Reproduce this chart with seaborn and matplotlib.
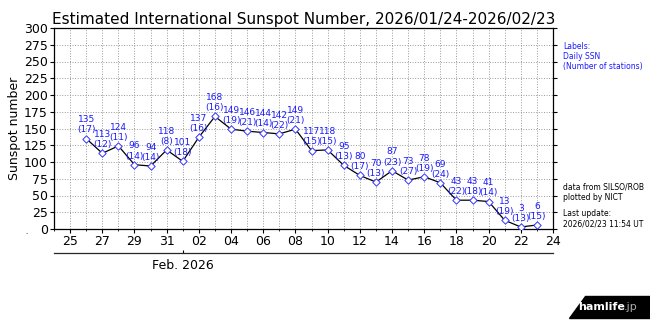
import matplotlib
matplotlib.use("Agg")
import matplotlib.pyplot as plt
import matplotlib.dates as mdates
import seaborn as sns
import pandas as pd
import numpy as np
from matplotlib.patches import Polygon

dates = pd.date_range("2026-01-26", "2026-02-23", freq="D")
ssn = [135, 113, 124, 96, 94, 118, 101, 137, 168, 149, 146, 144, 142, 149,
       117, 118, 95, 80, 70, 87, 73, 78, 69, 43, 43, 41, 13, 3, 6]
stations = [17, 12, 11, 14, 14, 8, 18, 16, 16, 19, 21, 14, 22, 21,
            15, 15, 13, 17, 13, 23, 27, 19, 24, 22, 18, 14, 19, 13, 15]
df = pd.DataFrame({"date": dates, "ssn": ssn, "n": stations})

tick_dates = pd.date_range("2026-01-25", "2026-02-24", freq="2D")
title = "Estimated International Sunspot Number, 2026/01/24-2026/02/23"
ylabel = "Sunspot number"

sns.set_theme(style="ticks")
plt.rcParams['font.family'] = ['DejaVu Sans']
plt.rcParams.update({"text.color": "black", "axes.labelcolor": "black",
                     "xtick.color": "black", "ytick.color": "black"})

fig = plt.figure(figsize=(6.5, 3.23), dpi=100)
ax = fig.add_axes([54/650, 1-229/323, (553-54)/650, (229-28)/323])

sns.lineplot(data=df, x="date", y="ssn", ax=ax, color="black", linewidth=0.9, zorder=3)
sns.scatterplot(data=df, x="date", y="ssn", ax=ax, marker="D", s=14,
                facecolor="white", edgecolor="#3333ff", linewidth=0.7, zorder=4)

for d, v, n in zip(df["date"], df["ssn"], df["n"]):
    ax.annotate(f"{v}\n({n})", (d, v), xytext=(0, 3), textcoords="offset points",
                ha="center", va="bottom", fontsize=6.5, color="#1a1aff",
                linespacing=1.15, zorder=5)

ax.set_xlim(pd.Timestamp("2026-01-24"), pd.Timestamp("2026-02-24"))
ax.set_ylim(0, 300)
ax.set_yticks(np.arange(0, 301, 25))
ax.set_xticks(tick_dates)
ax.xaxis.set_major_formatter(mdates.DateFormatter("%d"))
ax.xaxis.set_minor_locator(mdates.DayLocator())
ax.grid(True, which="both", axis="x", color="#999999", linestyle=":", linewidth=0.7)
ax.grid(True, which="major", axis="y", color="#999999", linestyle=":", linewidth=0.7)
ax.tick_params(axis="both", which="major", labelsize=9, direction="out", length=3, width=0.8, pad=1.5)
ax.tick_params(axis="y", right=True, labelright=False)
ax.tick_params(axis="x", which="minor", bottom=True, direction="out", length=1.5, width=0.6)
for s in ax.spines.values():
    s.set_visible(True)
    s.set_color("black")
    s.set_linewidth(0.9)
ax.set_xlabel("")
ax.set_ylabel(ylabel, fontsize=9, labelpad=2)
ax.set_title(title, fontsize=11, pad=3)

sec = ax.secondary_xaxis(-0.12)
sec.set_xticks([pd.Timestamp("2026-02-01")])
sec.set_xticklabels(["Feb. 2026"])
sec.tick_params(length=2.5, direction="in", width=0.8, labelsize=9, pad=4)
sec.spines["bottom"].set_linewidth(0.9)

fig.text(563/650, 1-42/323, "Labels:\nDaily SSN\n(Number of stations)", fontsize=5.5,
         color="#1a1aff", va="top", ha="left", linespacing=1.15)
fig.text(563/650, 1-183/323, "data from SILSO/ROB\nplotted by NICT", fontsize=5.5,
         color="black", va="top", ha="left", linespacing=1.15)
fig.text(563/650, 1-209/323, "Last update:\n2026/02/23 11:54 UT", fontsize=5.5,
         color="black", va="top", ha="left", linespacing=1.15)
fig.text(25/650, 1-234/323, ".", fontsize=5, color="black")

# watermark
poly = Polygon([[585/650, 1-296/323], [650/650, 1-296/323], [650/650, 1-318/323], [569/650, 1-318/323]],
               closed=True, transform=fig.transFigure, color="black")
fig.patches.append(poly)
fig.text(578/650, 1-307/323, "hamlife", fontsize=8, color="white", fontweight="bold", va="center")
fig.text(624/650, 1-307/323, ".jp", fontsize=8, color="#aaaaaa", va="center")

fig.savefig("out.png", dpi=100)
